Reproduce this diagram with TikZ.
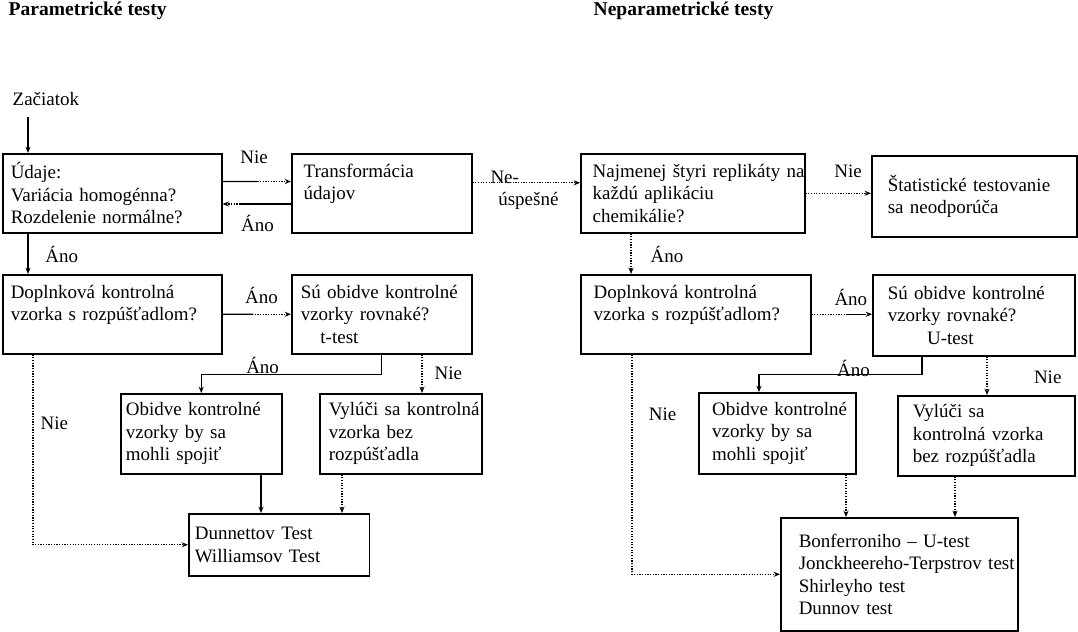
\documentclass[tikz,border=0pt]{standalone}
\usepackage{fontspec}
\setmainfont{Liberation Serif}
\usepackage{tikz}
\usetikzlibrary{arrows.meta,positioning,calc}

\begin{document}
\begin{tikzpicture}[x=0.7113pt,y=-0.7113pt,
    font=\fontsize{13.5pt}{16pt}\selectfont,
    >={Stealth[length=4.5pt,width=3.6pt]},
    box/.style={draw,line width=1.1pt,anchor=north west,align=left,inner ysep=0pt},
    title/.style={anchor=west,inner sep=1pt,font=\fontsize{13.9pt}{16pt}\selectfont\bfseries},
    sline/.style={line width=0.8pt},
    dline/.style={line width=0.9pt,densely dotted},
    lbl/.style={inner sep=1pt}]
    \useasboundingbox (0,0) rectangle (1078,632);

    % titles
    \node[title] (ptitle) at (7,11) {Parametrické testy};
    \node[title] (ntitle) at (592,11) {Neparametrické testy};
    \node[lbl,anchor=west] (start) at (11,99) {Začiatok};

    % parametric side
    \node[box,inner xsep=5.7pt,text width=144.4pt,minimum height=56.2pt] (udaje) at (2,153) {Údaje:\\ Variácia homogénna?\\ Rozdelenie normálne?};
    \node[box,inner xsep=8.5pt,text width=111pt,minimum height=56.2pt] (transf) at (291,153) {Transformácia\\ údajov\\ \mbox{}};
    \node[box,inner xsep=5.7pt,text width=144.4pt,minimum height=56.2pt] (dopL) at (2,274) {Doplnková kontrolná\\ vzorka s rozpúšťadlom?\\ \mbox{}};
    \node[box,inner xsep=6.4pt,text width=115.2pt,minimum height=56.2pt] (suL) at (291,274) {Sú obidve kontrolné\\ vzorky rovnaké?\\ \hspace*{14pt}t-test};
    \node[box,inner xsep=3.6pt,text width=107.3pt,minimum height=56.9pt] (obiL) at (120,393) {Obidve kontrolné\\ vzorky by sa\\ mohli spojiť};
    \node[box,inner xsep=6.4pt,text width=102.4pt,minimum height=56.9pt] (vylL) at (319,393) {\mbox{Vylúči sa kontrolná}\\ vzorka bez\\ rozpúšťadla};
    \node[box,inner xsep=4.3pt,text width=120.1pt,minimum height=44.1pt] (dunn) at (188,513) {Dunnettov Test\\ Williamsov Test};

    % nonparametric side
    \node[box,inner xsep=8.5pt,text width=142.3pt,minimum height=56.2pt] (replik) at (580,153) {\mbox{Najmenej štyri replikáty na}\\ každú aplikáciu\\ chemikálie?};
    \node[box,inner xsep=11.4pt,text width=123pt,minimum height=57.6pt] (stat) at (871,155) {Štatistické testovanie\\ sa neodporúča};
    \node[box,inner xsep=9.2pt,text width=145.2pt,minimum height=56.2pt] (dopR) at (580,274) {Doplnková kontrolná\\ vzorka s rozpúšťadlom?\\ \mbox{}};
    \node[box,inner xsep=10.7pt,text width=122.3pt,minimum height=57.6pt] (suR) at (872,274) {Sú obidve kontrolné\\ vzorky rovnaké?\\ \hspace*{28pt}U-test};
    \node[box,inner xsep=9.5pt,text width=92.7pt,minimum height=57.6pt] (obiR) at (698,392) {\mbox{Obidve kontrolné}\\ vzorky by sa\\ mohli spojiť};
    \node[box,inner xsep=10.7pt,text width=104.5pt,minimum height=56.9pt] (vylR) at (897,395) {Vylúči sa\\ kontrolná vzorka\\ bez rozpúšťadla};
    \node[box,inner xsep=12.8pt,text width=143pt,minimum height=80.4pt] (bonf) at (780,517) {Bonferroniho – U-test\\ \mbox{Jonckheereho-Terpstrov test}\\ Shirleyho test\\ Dunnov test};

    % connectors, parametric
    \coordinate (u1) at ($(udaje.north west)+(26,0)$);
    \coordinate (s0) at ([yshift=-7pt]start.south);
    \draw[sline,->] (s0 -| u1) -- (u1);

    \coordinate (a1) at ($(udaje.north east)!0.354!(udaje.south east)$);
    \coordinate (b1) at (a1 -| transf.west);
    \draw[dline,->] (a1) -- node[lbl,above=11pt,pos=.46] (nie1) {Nie} (b1);
    \draw[sline] (a1) -- ($(a1)!.5!(b1)$);

    \coordinate (a2) at ($(transf.north west)!0.633!(transf.south west)$);
    \coordinate (b2) at (a2 -| udaje.east);
    \draw[dline,->] (a2) -- node[lbl,below=6.3pt,pos=.49] (ano1) {Áno} (b2);
    \draw[sline] (a2) -- ($(a2)!.75!(b2)$);

    \coordinate (a3) at ($(transf.north east)!0.37!(transf.south east)$);
    \draw[dline,->] (a3) -- node[lbl,above=-2.2pt,pos=.3] (ne) {Ne-} node[lbl,below=5pt,pos=.52] (uspesne) {úspešné} (a3 -| replik.west);

    \coordinate (a4) at ($(udaje.south west)+(26,0)$);
    \draw[sline,->] (a4) -- node[lbl,right=11pt,pos=.52] (ano2) {Áno} (a4 |- dopL.north);

    \draw[dline,->] (dopL.east) -- node[lbl,above=6pt,pos=.57] (ano3) {Áno} (suL.west);
    \draw[sline] (dopL.east) -- ($(dopL.east)!.45!(suL.west)$);

    \draw[sline,->] (suL.south) -- ++(0,20) -| node[lbl,above=-1pt,pos=.33] (ano4) {Áno} (obiL.north);

    \coordinate (a5) at ($(suL.south west)+(131,0)$);
    \draw[dline,->] (a5) -- node[lbl,right=7.5pt,pos=.48] (nie2) {Nie} (a5 |- vylL.north);

    \coordinate (a6) at ($(dopL.south west)+(31,0)$);
    \draw[dline,->] (a6) |- node[lbl,right=4pt,pos=.18] (nie3) {Nie} (dunn.west);

    \coordinate (a7) at ($(obiL.south west)+(141,0)$);
    \draw[sline,->] (a7) -- (a7 |- dunn.north);
    \coordinate (a8) at ($(vylL.south west)+(23,0)$);
    \draw[dline,->] (a8) -- (a8 |- dunn.north);

    % connectors, nonparametric
    \draw[dline,->] (replik.east) -- node[lbl,above=9.7pt,pos=.65] (nie4) {Nie} (replik.east -| stat.west);

    \coordinate (a9) at ($(replik.south west)+(51,0)$);
    \draw[dline,->] (a9) -- node[lbl,right=12.5pt,pos=.52] (ano5) {Áno} (a9 |- dopR.north);

    \coordinate (b10) at (dopR.east -| suR.west);
    \draw[dline,->] (dopR.east) -- node[lbl,above=4.5pt,pos=.65] (ano6) {Áno} (b10);
    \draw[sline] ($(dopR.east)!.6!(b10)$) -- ($(dopR.east)!.9!(b10)$);

    \coordinate (a11) at ($(suR.south west)+(50,0)$);
    \coordinate (b11) at ($(obiR.north west)+(61,0)$);
    \draw[sline,->] (a11) -- ++(0,18) -| node[lbl,above=-3pt,pos=.21] (ano7) {Áno} (b11);

    \coordinate (a12) at ($(suR.south west)+(115,0)$);
    \draw[dline,->] (a12) -- node[lbl,right=32pt,pos=.55] (nie5) {Nie} (a12 |- vylR.north);

    \coordinate (a13) at ($(dopR.south west)+(52,0)$);
    \draw[dline,->] (a13) |- node[lbl,right=10.5pt,pos=.135] (nie6) {Nie} (bonf.west);

    \coordinate (a14) at ($(obiR.south west)+(148,0)$);
    \draw[dline,->] (a14) -- (a14 |- bonf.north);
    \coordinate (a15) at ($(vylR.south west)+(58,0)$);
    \draw[dline,->] (a15) -- (a15 |- bonf.north);
\end{tikzpicture}
\end{document}
